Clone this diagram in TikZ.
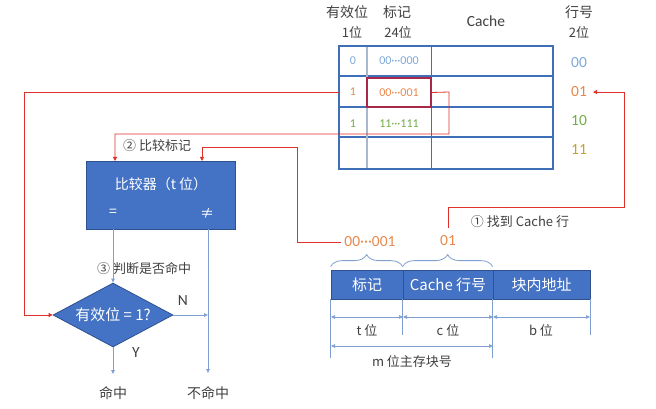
\documentclass[tikz,border=0pt]{standalone}
\usepackage{fontspec}
\setmainfont{Noto Sans CJK SC}
\newfontfamily\lat{Carlito}
\usetikzlibrary{shapes.geometric,arrows.meta,decorations.pathreplacing}
\definecolor{bluefill}{HTML}{4472C4}
\definecolor{bluedark}{HTML}{2F528F}
\definecolor{tblblue}{HTML}{3F6FB8}
\definecolor{colgray}{HTML}{A8B8CC}
\definecolor{flowblue}{HTML}{7F9FD0}
\definecolor{redc}{HTML}{E0302A}
\definecolor{tagred}{HTML}{A8284A}
\definecolor{orangec}{HTML}{E8884A}
\definecolor{lblue}{HTML}{7DA7D9}
\definecolor{greenc}{HTML}{70AD47}
\definecolor{goldc}{HTML}{C9A02A}
\definecolor{txt}{HTML}{404040}
\begin{document}
\begin{tikzpicture}[x=1pt,y=-1pt,
  ftA/.style={font=\fontsize{14}{16}\selectfont},
  ftB/.style={font=\fontsize{13}{15}\selectfont},
  ftC/.style={font=\lat\fontsize{12}{14}\selectfont},
  ftD/.style={font=\fontsize{15}{17}\selectfont},
  ftL/.style={font=\lat\fontsize{15.5}{17}\selectfont},
  lbl/.style={text=txt,inner sep=1pt},
  tbl/.style={draw=tblblue,line width=1.2pt},
  redarrow/.style={draw=redc,line width=0.8pt,-{Triangle[length=4pt,width=4pt]}},
  flow/.style={draw=flowblue,line width=0.8pt,-{Triangle[length=4pt,width=3.5pt]}},
  dimline/.style={draw=flowblue,line width=0.7pt},
  dimarrow/.style={draw=flowblue,line width=0.7pt,{Triangle[length=4pt,width=3.5pt]}-{Triangle[length=4pt,width=3.5pt]}},
  barbox/.style={draw=bluedark,fill=bluefill,line width=0.8pt,text=white,minimum height=29pt,inner sep=0pt,ftD},
  bracec/.style={draw=flowblue,line width=0.8pt,decorate,decoration={brace,amplitude=12pt}}
]
\useasboundingbox (0,0) rectangle (656,409);

% headers
\node[lbl,ftA] (h1) at (347,12) {有效位};
\node[lbl,ftB] (h1b) at (352,33) {1位};
\node[lbl,ftA] (h2) at (397,12) {标记};
\node[lbl,ftB] (h2b) at (398,33) {24位};
\node[lbl,ftL] (h3) at (486,21) {Cache};
\node[lbl,ftA] (h4) at (579,12) {行号};
\node[lbl,ftB] (h4b) at (579,33) {2位};

% table
\draw[tbl] (339,46) rectangle (553,169);
\draw[tbl] (339,76) -- (553,76);
\draw[tbl,line width=2pt] (339,107) -- (553,107);
\draw[tbl] (339,137) -- (553,137);
\draw[draw=colgray,line width=1.8pt] (367,47) -- (367,168);
\draw[tbl,line width=1pt] (431,46) -- (431,169);

\node[ftC,text=lblue] (v0) at (353,61) {0};
\node[ftC,text=lblue] (t0) at (399,61) {00···000};
\node[ftC,text=orangec] (v1) at (353,92) {1};
\node[ftC,text=orangec,draw=tagred,line width=1.2pt,minimum width=64pt,minimum height=29pt,inner sep=0pt] (tag) at (399,92.5) {00···001};
\node[ftC,text=greenc] (v2) at (353,124) {1};
\node[ftC,text=greenc] (t2) at (399,124) {11···111};

\node[ftL,text=lblue] (ln0) at (579,63) {00};
\node[ftL,text=orangec] (ln1) at (579,92) {01};
\node[ftL,text=greenc] (ln2) at (579,121) {10};
\node[ftL,text=goldc] (ln3) at (579,150) {11};

% comparator
\node[draw=bluedark,fill=bluefill,line width=0.8pt,minimum width=149pt,minimum height=68pt,inner sep=0pt] (cmp) at (160.5,195) {};
\node[ftA,text=white] (cmpt) at (161,184) {比较器（t 位）};
\node[ftA,text=white] (eq) at (113,213) {=};
\node[ftA,text=white] (ne) at (207,213) {≠};
\node[lbl,ftB,anchor=west] (s2) at (122,146) {② 比较标记};

% diamond
\node[diamond,draw=bluedark,fill=bluefill,line width=0.8pt,aspect=1.875,minimum width=120pt,minimum height=64pt,inner sep=0pt,text=white,ftD] (dia) at (113,315) {有效位 = 1?};
\node[lbl,ftB,anchor=west] (s3) at (96,269) {③ 判断是否命中};
\node[lbl,ftL] (nlab) at (183,301) {N};
\node[lbl,ftL] (ylab) at (136,353) {Y};
\node[lbl,ftA] (hit) at (113,393) {命中};
\node[lbl,ftA] (miss) at (208,393) {不命中};

\coordinate (cmpA) at (115,161);
\coordinate (cmpB) at (202,161);
\coordinate (cmpEq) at (113,229);
\coordinate (cmpNe) at (208,229);
\coordinate (missTop) at (208,373);
\coordinate (hitTop) at (113,374);
\coordinate (nJoin) at (208,315);

\draw[flow] (cmpEq) -- (dia.north);
\draw[flow] (cmpNe) -- (missTop);
\draw[flow] (dia.east) -- (nJoin);
\draw[flow] (dia.south) -- (hitTop);

% address bar
\node[barbox,minimum width=72pt] (f1) at (367,284.5) {标记};
\node[barbox,minimum width=90pt] (f2) at (448,284.5) {Cache 行号};
\node[barbox,minimum width=97pt] (f3) at (541.5,284.5) {块内地址};

\draw[bracec] (f1.north west) ++(0,-3) -- ++(72,0);
\draw[bracec] (f2.north west) ++(0,-3) -- ++(90,0);

\node[ftL,text=orangec] (atag) at (370,242) {00···001};
\node[ftL,text=orangec] (aline) at (448,241) {01};
\node[lbl,ftB] (s1) at (520,222) {① 找到 Cache 行};

\draw[dimline] (f1.south west) -- ++(0,59);
\draw[dimline] (f2.south west) -- ++(0,36);
\draw[dimline] (f3.south west) -- ++(0,59);
\draw[dimline] (f3.south east) -- ++(0,36);
\coordinate (d1) at (331,317);
\coordinate (d2) at (403,317);
\coordinate (d3) at (493,317);
\coordinate (d4) at (590,317);
\coordinate (m1) at (331,346);
\coordinate (m2) at (493,346);
\draw[dimarrow] (d1) -- (d2);
\draw[dimarrow] (d2) -- (d3);
\draw[dimarrow] (d3) -- (d4);
\draw[dimarrow] (m1) -- (m2);
\node[lbl,ftB] (tl) at (367,330) {t 位};
\node[lbl,ftB] (cl) at (448,330) {c 位};
\node[lbl,ftB] (bl) at (541,330) {b 位};
\node[lbl,ftB] (ml) at (412,362) {m 位主存块号};

% red connectors
\coordinate (vleft) at (339,92);
\coordinate (a01top) at (448,228);
\coordinate (ln1arr) at (593,92);
\draw[redarrow] (vleft) -- (24,92) |- (dia.west);
\draw[redarrow] (tag.east) -- (449,92) -- (449,134) -| (cmpA);
\draw[redarrow] (atag.west) -| (297,147) -| (cmpB);
\draw[redarrow] (a01top) |- (624,207) |- (ln1arr);
\end{tikzpicture}
\end{document}
